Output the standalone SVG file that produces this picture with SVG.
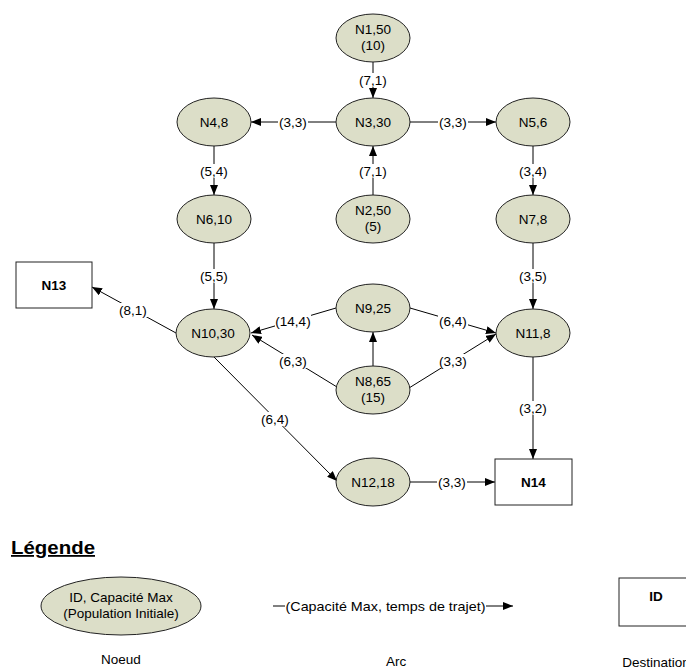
<svg xmlns="http://www.w3.org/2000/svg" width="686" height="668" viewBox="0 0 686 668">
<defs>
<marker id="ah" viewBox="0 0 10 8" refX="10" refY="4" markerWidth="10" markerHeight="8" markerUnits="userSpaceOnUse" orient="auto">
<path d="M0,0 L10,4 L0,8 z" fill="#000"/>
</marker>
<style>
text{font-family:"Liberation Sans",Arial,sans-serif;font-size:13.5px;fill:#000;text-anchor:middle}
.nd{fill:#dcdec8;stroke:#222;stroke-width:1}
.bx{fill:#fff;stroke:#222;stroke-width:1}
.b{font-weight:bold}
.e{stroke:#000;stroke-width:1;fill:none;marker-end:url(#ah)}
.lb{fill:#fff}
</style>
</defs>
<rect width="686" height="668" fill="#fff"/>
<g id="connectors">
<line class="e" x1="373" y1="62" x2="373" y2="98"/>
<line class="e" x1="336" y1="122" x2="251" y2="122"/>
<line class="e" x1="410" y1="122" x2="496" y2="122"/>
<line class="e" x1="373" y1="195" x2="373" y2="146"/>
<line class="e" x1="214" y1="146" x2="214" y2="195"/>
<line class="e" x1="533" y1="146" x2="533" y2="195"/>
<line class="e" x1="214" y1="243" x2="214" y2="309"/>
<line class="e" x1="533" y1="243" x2="533" y2="309"/>
<line class="e" x1="176" y1="333" x2="92" y2="287"/>
<line class="e" x1="336" y1="308" x2="251" y2="333"/>
<line class="e" x1="337" y1="387" x2="252" y2="335"/>
<line class="e" x1="373" y1="366" x2="373" y2="332"/>
<line class="e" x1="410" y1="308" x2="496" y2="333"/>
<line class="e" x1="409" y1="388" x2="496" y2="334"/>
<line class="e" x1="214" y1="357" x2="337" y2="481"/>
<line class="e" x1="533" y1="357" x2="533" y2="459"/>
<line class="e" x1="410" y1="482" x2="495" y2="482"/>
<g id="edge-labels">
<rect class="lb" x="358" y="73" width="30" height="14"/><text x="373" y="84.5">(7,1)</text>
<rect class="lb" x="278" y="115" width="30" height="14"/><text x="293" y="126.5">(3,3)</text>
<rect class="lb" x="438" y="115" width="30" height="14"/><text x="453" y="126.5">(3,3)</text>
<rect class="lb" x="358" y="164" width="30" height="14"/><text x="373" y="175.5">(7,1)</text>
<rect class="lb" x="199" y="164" width="30" height="14"/><text x="214" y="175.5">(5,4)</text>
<rect class="lb" x="518" y="164" width="30" height="14"/><text x="533" y="175.5">(3,4)</text>
<rect class="lb" x="199" y="269" width="30" height="14"/><text x="214" y="280.5">(5,5)</text>
<rect class="lb" x="518" y="269" width="30" height="14"/><text x="533" y="280.5">(3,5)</text>
<rect class="lb" x="118" y="303" width="30" height="14"/><text x="133" y="314.5">(8,1)</text>
<rect class="lb" x="275" y="314" width="36" height="14"/><text x="293" y="325.5">(14,4)</text>
<rect class="lb" x="278" y="354" width="30" height="14"/><text x="293" y="365.5">(6,3)</text>
<rect class="lb" x="438" y="314" width="30" height="14"/><text x="453" y="325.5">(6,4)</text>
<rect class="lb" x="438" y="354" width="30" height="14"/><text x="453" y="365.5">(3,3)</text>
<rect class="lb" x="260" y="412" width="30" height="14"/><text x="275" y="423.5">(6,4)</text>
<rect class="lb" x="518" y="401" width="30" height="14"/><text x="533" y="412.5">(3,2)</text>
<rect class="lb" x="437" y="475" width="30" height="14"/><text x="452" y="486.5">(3,3)</text>
</g>
</g>
<g id="N1"><ellipse class="nd" cx="373" cy="38" rx="37" ry="24"/><text x="373" y="34">N1,50</text><text x="373" y="50">(10)</text></g>
<g id="N3"><ellipse class="nd" cx="373" cy="122" rx="37" ry="24"/><text x="373" y="126.5">N3,30</text></g>
<g id="N4"><ellipse class="nd" cx="214" cy="122" rx="37" ry="24"/><text x="214" y="126.5">N4,8</text></g>
<g id="N5"><ellipse class="nd" cx="533" cy="122" rx="37" ry="24"/><text x="533" y="126.5">N5,6</text></g>
<g id="N6"><ellipse class="nd" cx="214" cy="219" rx="37" ry="24"/><text x="214" y="223.5">N6,10</text></g>
<g id="N2"><ellipse class="nd" cx="373" cy="219" rx="37" ry="24"/><text x="373" y="215">N2,50</text><text x="373" y="231">(5)</text></g>
<g id="N7"><ellipse class="nd" cx="533" cy="219" rx="37" ry="24"/><text x="533" y="223.5">N7,8</text></g>
<g id="N9"><ellipse class="nd" cx="373" cy="308" rx="37" ry="24"/><text x="373" y="312.5">N9,25</text></g>
<g id="N10"><ellipse class="nd" cx="213" cy="333" rx="37" ry="24"/><text x="213" y="337.5">N10,30</text></g>
<g id="N11"><ellipse class="nd" cx="533" cy="333" rx="37" ry="24"/><text x="533" y="337.5">N11,8</text></g>
<g id="N8"><ellipse class="nd" cx="373" cy="390" rx="37" ry="24"/><text x="373" y="386">N8,65</text><text x="373" y="402">(15)</text></g>
<g id="N12"><ellipse class="nd" cx="373" cy="482" rx="37" ry="24"/><text x="373" y="486.5">N12,18</text></g>
<g id="N13"><rect class="bx" x="16" y="262" width="76" height="46"/><text class="b" x="54" y="289.5">N13</text></g>
<g id="N14"><rect class="bx" x="495" y="459" width="77" height="46"/><text class="b" x="533.5" y="486.5">N14</text></g>
<g id="legend">
<text class="b" x="53" y="554" style="font-size:18px;text-decoration:underline" textLength="84" lengthAdjust="spacingAndGlyphs">Légende</text>
<ellipse class="nd" cx="121" cy="606" rx="80" ry="29"/>
<text x="121" y="601.5">ID, Capacité Max</text>
<text x="121" y="617.5">(Population Initiale)</text>
<text x="121" y="664">Noeud</text>
<line class="e" x1="273" y1="606" x2="513" y2="606"/>
<rect class="lb" x="285" y="598" width="201" height="16"/>
<text x="385.5" y="610.5" textLength="200" lengthAdjust="spacingAndGlyphs">(Capacité Max, temps de trajet)</text>
<text x="396" y="666">Arc</text>
<rect class="bx" x="619" y="578" width="77" height="48"/>
<text class="b" x="656" y="601">ID</text>
<text x="656" y="667">Destination</text>
</g>
</svg>
